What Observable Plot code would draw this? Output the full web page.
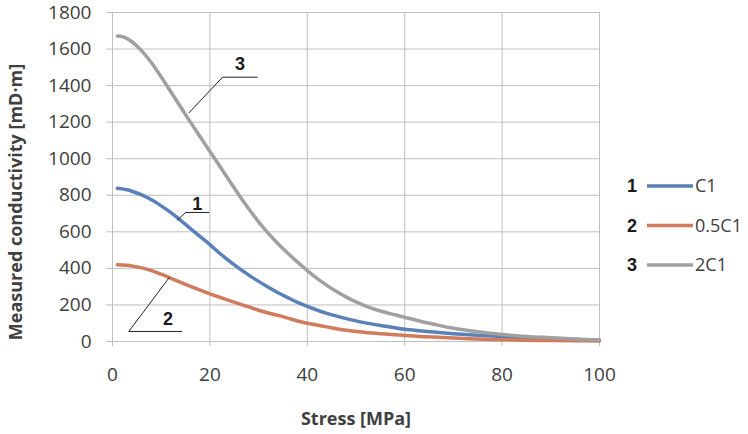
<!DOCTYPE html>
<html><head><meta charset="utf-8">
<script src="https://cdn.jsdelivr.net/npm/d3@7"></script>
<script src="https://cdn.jsdelivr.net/npm/@observablehq/plot@0.6"></script>
<style>body{margin:0;background:#fff}</style>
</head><body><div id="chart"></div>
<script>
const stress = [1,2,3,4,6,8,10,12,14,16,18,20,22,24,26,28,30,32,34,36,38,40,42,44,46,48,50,52,55,58,60,63,66,70,75,80,85,90,95,100];
const seriesC1 = [838,835,830,822,802,775,742,705,663,618,574,530,483,440,400,363,329,297,267,240,214,192,172,154,139,125,113,102,88,75,67,59,52,43,34,27,21,16,11,7];
const series05C1 = [420,419,417,413,403,388,368,346,324,302,281,261,242,224,206,189,171,156,143,128,112,100,90,80,70,62,55,49,43,37,33,28,24,19,14,10,7,5,4,3];
const series2C1 = [1672,1668,1657,1640,1590,1525,1447,1365,1283,1200,1120,1040,960,880,800,725,655,592,535,483,434,388,345,307,273,243,217,194,167,146,133,112,94,72,53,38,28,21,14,8];
const seriesNames = ["C1","0.5C1","2C1"];
const seriesNums = ["1","2","3"];
const seriesColors = ["#5a80b9","#d07b5c","#a0a0a0"];
const xTicks = [0,20,40,60,80,100];
const yTicks = [0,200,400,600,800,1000,1200,1400,1600,1800];
const xTitle = "Stress [MPa]";
const yTitle = "Measured conductivity [mD·m]";
// annotation leader lines (number, stress, conductivity)
const annId = ["3","3","3","1","1","1","2","2","2"];
const annX = [15.7,22.6,29.7, 13.3,15.0,19.8, 11.6,3.35,14.2];
const annY = [1251,1446,1446, 664,706,706, 348,55,55];
const annLabel = ["3","1","2"];
const annLabelX = [26.2,17.4,11.4];
const annLabelY = [1517,751,124];

const rows = [];
[seriesC1, series05C1, series2C1].forEach((vals, s) =>
  vals.forEach((v, i) => rows.push({series: seriesNames[s], stress: stress[i], value: v})));
const annRows = annId.map((id, i) => ({id, x: annX[i], y: annY[i]}));
const annLabels = annLabel.map((t, i) => ({t, x: annLabelX[i], y: annLabelY[i]}));

const gridColor = "#bfbfbf";
const textColor = "#404040";
const plot = Plot.plot({
  width: 748, height: 434,
  marginTop: 12, marginLeft: 112, marginRight: 149, marginBottom: 93,
  x: {domain: [0, 100]},
  y: {domain: [0, 1800]},
  color: {domain: seriesNames, range: seriesColors},
  style: {fontFamily: "Open Sans", fontSize: "19px", color: textColor, background: "#fff", overflow: "visible"},
  marks: [
    Plot.gridX(xTicks, {stroke: gridColor, strokeOpacity: 1}),
    Plot.gridY(yTicks, {stroke: gridColor, strokeOpacity: 1}),
    Plot.axisX(xTicks, {tickSize: 5, tickPadding: 21, stroke: gridColor, fill: textColor, fontSize: 19, label: null, tickFormat: d => String(d)}),
    Plot.axisY(yTicks, {tickSize: 6, tickPadding: 15, stroke: gridColor, fill: textColor, fontSize: 19, label: null, tickFormat: d => String(d)}),
    Plot.line(rows, {x: "stress", y: "value", z: "series", stroke: "series", strokeWidth: 3.5, curve: "catmull-rom"}),
    Plot.line(annRows, {x: "x", y: "y", z: "id", stroke: "#222", strokeWidth: 1}),
    Plot.text(annLabels, {x: "x", y: "y", text: "t", fontFamily: "Liberation Sans", fontWeight: "bold", fontSize: 18, fill: "#1a1a1a"})
  ]
});
document.getElementById("chart").appendChild(plot);

const svg = d3.select(plot);
// axis titles
svg.append("text").attr("transform", "translate(16,202) rotate(-90)").attr("text-anchor", "middle").attr("dy", "0.35em")
  .attr("font-family", "Open Sans").attr("font-weight", "bold").attr("font-size", 18).attr("fill", textColor).text(yTitle);
svg.append("text").attr("x", 356).attr("y", 419).attr("text-anchor", "middle").attr("dy", "0.35em")
  .attr("font-family", "Open Sans").attr("font-weight", "bold").attr("font-size", 18).attr("fill", textColor).text(xTitle);
// legend
const lg = svg.append("g");
seriesNames.forEach((name, i) => {
  const cy = 186 + i * 39.5;
  lg.append("text").attr("x", 632).attr("y", cy).attr("dy", "0.35em").attr("text-anchor", "middle")
    .attr("font-family", "Liberation Sans").attr("font-weight", "bold").attr("font-size", 18).attr("fill", "#1a1a1a").text(seriesNums[i]);
  lg.append("line").attr("x1", 647).attr("x2", 693).attr("y1", cy).attr("y2", cy)
    .attr("stroke", seriesColors[i]).attr("stroke-width", 3.5);
  lg.append("text").attr("x", 695).attr("y", cy).attr("dy", "0.35em").attr("text-anchor", "start")
    .attr("font-family", "Open Sans").attr("font-size", 18).attr("fill", textColor).text(name);
});
</script></body></html>
